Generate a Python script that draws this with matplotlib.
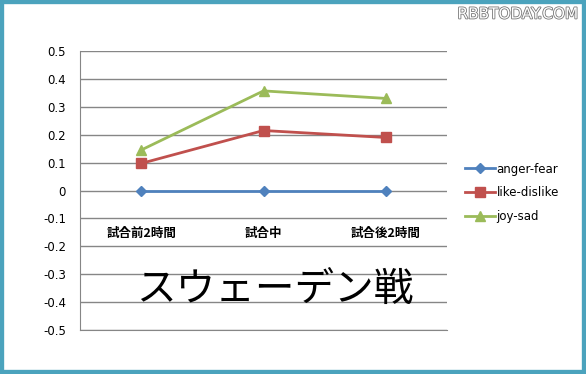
import matplotlib
matplotlib.use("Agg")
import matplotlib.pyplot as plt
import matplotlib.patheffects as pe
from matplotlib.patches import Rectangle

categories = ["試合前2時間", "試合中", "試合後2時間"]
anger_fear = [0.0, 0.0, 0.0]
like_dislike = [0.097, 0.215, 0.19]
joy_sad = [0.145, 0.357, 0.33]
yticks = [0.5, 0.4, 0.3, 0.2, 0.1, 0, -0.1, -0.2, -0.3, -0.4, -0.5]
ytick_labels = ["0.5", "0.4", "0.3", "0.2", "0.1", "0", "-0.1", "-0.2", "-0.3", "-0.4", "-0.5"]
title = "スウェーデン戦"

plt.rcParams['font.family'] = ['Noto Sans CJK JP', 'DejaVu Sans']

fig = plt.figure(figsize=(5.86, 3.74), dpi=100)
fig.patch.set_facecolor("white")
# border
fig.patches.append(Rectangle((0, 0), 1, 1, transform=fig.transFigure, fill=False,
                             edgecolor="#4BA3BD", linewidth=6, zorder=10))

ax = fig.add_axes([80/586, 1-330/374, 367/586, 279/374])
x = list(range(len(categories)))
ax.plot(x, anger_fear, color="#4F81BD", lw=2, marker="D", ms=5.5, label="anger-fear", zorder=3)
ax.plot(x, like_dislike, color="#C0504D", lw=2, marker="s", ms=6.5, label="like-dislike", zorder=3)
ax.plot(x, joy_sad, color="#9BBB59", lw=2, marker="^", ms=7.5, label="joy-sad", zorder=3)

ax.set_xlim(-0.5, 2.5)
ax.set_ylim(-0.5, 0.5)
ax.set_yticks(yticks)
ax.set_yticklabels(ytick_labels, fontsize=8.5, family=['DejaVu Sans'])
ax.yaxis.grid(True, color="#868686", lw=1)
ax.set_axisbelow(True)
for s in ["top", "right"]:
    ax.spines[s].set_visible(False)
ax.spines["bottom"].set_color("#868686")
ax.spines["left"].set_color("#868686")
ax.tick_params(axis="y", length=0, pad=10)
ax.set_xticks(x)
ax.set_xticklabels(categories, fontsize=9, fontweight="bold")
ax.tick_params(axis="x", length=0, pad=-74)

ax.text(0.53, 0.14, title, transform=ax.transAxes, ha="center", va="center",
        fontsize=28.5, color="black")

leg = fig.legend(loc="upper left", bbox_to_anchor=(454/586, 1-152/374), frameon=False,
                 handlelength=2.6, labelspacing=0.9, handletextpad=0.1,
                 prop={'family': ['DejaVu Sans'], 'size': 8.5})

fig.text(578/586, 1-14/374, "RBBTODAY.COM", ha="right", va="center", fontsize=11,
         color="white", family=['DejaVu Sans'],
         path_effects=[pe.withStroke(linewidth=1.2, foreground="#777777")])

fig.savefig("out.png", dpi=100)
